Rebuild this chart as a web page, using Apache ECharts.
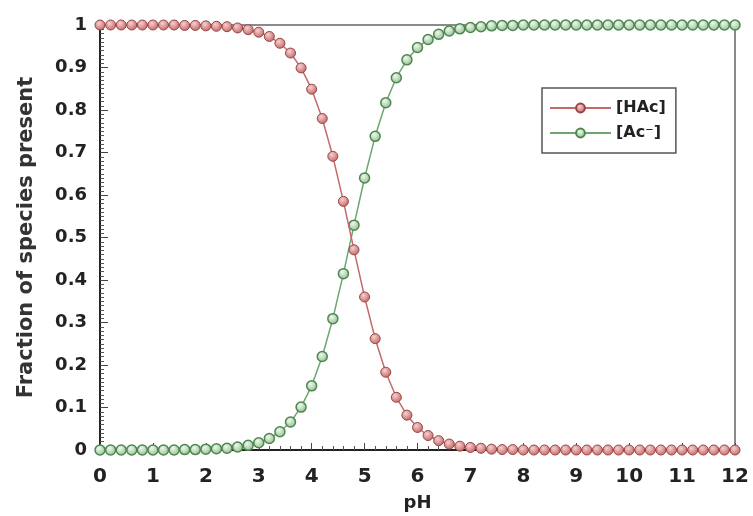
<!DOCTYPE html>
<html>
<head>
<meta charset="utf-8">
<script src="https://cdn.jsdelivr.net/npm/echarts@6/dist/echarts.min.js"></script>
<style>
  html, body { margin: 0; padding: 0; background: #fff; }
  #chart { width: 753px; height: 516px; }
</style>
</head>
<body>
<div id="chart"></div>
<script>
// pH from 0 to 12, step 0.2
var ph = [0, 0.2, 0.4, 0.6, 0.8, 1, 1.2, 1.4, 1.6, 1.8, 2, 2.2, 2.4, 2.6, 2.8, 3, 3.2, 3.4, 3.6, 3.8,
    4, 4.2, 4.4, 4.6, 4.8, 5, 5.2, 5.4, 5.6, 5.8, 6, 6.2, 6.4, 6.6, 6.8, 7, 7.2, 7.4, 7.6, 7.8,
    8, 8.2, 8.4, 8.6, 8.8, 9, 9.2, 9.4, 9.6, 9.8, 10, 10.2, 10.4, 10.6, 10.8, 11, 11.2, 11.4, 11.6, 11.8, 12];
var hac = [1, 1, 1, 1, 1, 1, 1, 1, 0.999, 0.999, 0.998, 0.997, 0.996, 0.993, 0.989, 0.983, 0.973, 0.957, 0.934, 0.899,
    0.849, 0.780, 0.691, 0.585, 0.471, 0.360, 0.262, 0.183, 0.124, 0.082, 0.053, 0.034, 0.022, 0.014, 0.009, 0.006, 0.004, 0.002, 0.001, 0.001,
    0, 0, 0, 0, 0, 0, 0, 0, 0, 0, 0, 0, 0, 0, 0, 0, 0, 0, 0, 0, 0];
var ac = [0, 0, 0, 0, 0, 0, 0, 0, 0.001, 0.001, 0.002, 0.003, 0.004, 0.007, 0.011, 0.017, 0.027, 0.043, 0.066, 0.101,
    0.151, 0.220, 0.309, 0.415, 0.529, 0.640, 0.738, 0.817, 0.876, 0.918, 0.947, 0.966, 0.978, 0.986, 0.991, 0.994, 0.996, 0.998, 0.999, 0.999,
    1, 1, 1, 1, 1, 1, 1, 1, 1, 1, 1, 1, 1, 1, 1, 1, 1, 1, 1, 1, 1];
var seriesNames = ['[HAc]', '[Ac\u207B]'];

function pairs(ys) {
    return ph.map(function (x, i) { return [x, ys[i]]; });
}
function ball(light, dark) {
    return {
        type: 'radial', x: 0.4, y: 0.35, r: 0.7,
        colorStops: [{ offset: 0, color: light }, { offset: 1, color: dark }]
    };
}

var font = 'DejaVu Sans, Liberation Sans, sans-serif';
var chart = echarts.init(document.getElementById('chart'));
chart.setOption({
    animation: false,
    backgroundColor: '#fff',
    grid: {
        left: 100, right: 18, top: 25, bottom: 66,
        outerBoundsMode: 'none', containLabel: false,
        show: true, borderColor: '#666', borderWidth: 1.5
    },
    legend: {
        orient: 'vertical',
        left: 542, top: 88,
        padding: [12, 10, 12, 7],
        itemGap: 9,
        itemWidth: 61, itemHeight: 11,
        borderColor: '#555', borderWidth: 1.5,
        textStyle: { fontFamily: font, fontSize: 16, lineHeight: 16, fontWeight: 'bold', color: '#222' },
        data: seriesNames
    },
    xAxis: {
        type: 'value', min: 0, max: 12, interval: 1,
        name: 'pH', nameLocation: 'middle', nameGap: 44,
        nameTextStyle: { fontFamily: font, fontSize: 18, fontWeight: 'bold', color: '#222' },
        axisLine: { lineStyle: { color: '#222', width: 2 } },
        axisTick: { inside: true, length: 7, lineStyle: { color: '#444' } },
        minorTick: { show: true, splitNumber: 5, length: 4, lineStyle: { color: '#555' } },
        splitLine: { show: false },
        axisLabel: { fontFamily: font, fontSize: 20, fontWeight: 'bold', color: '#222', margin: 17 }
    },
    yAxis: {
        type: 'value', min: 0, max: 1, interval: 0.1,
        name: 'Fraction of species present', nameLocation: 'middle', nameGap: 63,
        nameTextStyle: { fontFamily: font, fontSize: 21, fontWeight: 'bold', color: '#333' },
        axisLine: { lineStyle: { color: '#222', width: 2 } },
        axisTick: { inside: true, length: 8, lineStyle: { color: '#444' } },
        minorTick: { show: true, splitNumber: 10, length: 4, lineStyle: { color: '#555' } },
        splitLine: { show: false },
        axisLabel: { fontFamily: font, fontSize: 18, fontWeight: 'bold', color: '#222', margin: 13 }
    },
    series: [
        {
            name: seriesNames[0], type: 'line', data: pairs(hac),
            symbol: 'circle', symbolSize: 10,
            lineStyle: { color: '#c46a6a', width: 1.5 },
            itemStyle: { color: ball('#f6d0d0', '#c0605f'), borderColor: '#9a4444', borderWidth: 1 },
            z: 3
        },
        {
            name: seriesNames[1], type: 'line', data: pairs(ac),
            symbol: 'circle', symbolSize: 10,
            lineStyle: { color: '#6fa56f', width: 1.5 },
            itemStyle: { color: ball('#eef7ee', '#8cbc8c'), borderColor: '#4d874d', borderWidth: 1.5 },
            z: 2
        }
    ]
});
</script>
</body>
</html>
